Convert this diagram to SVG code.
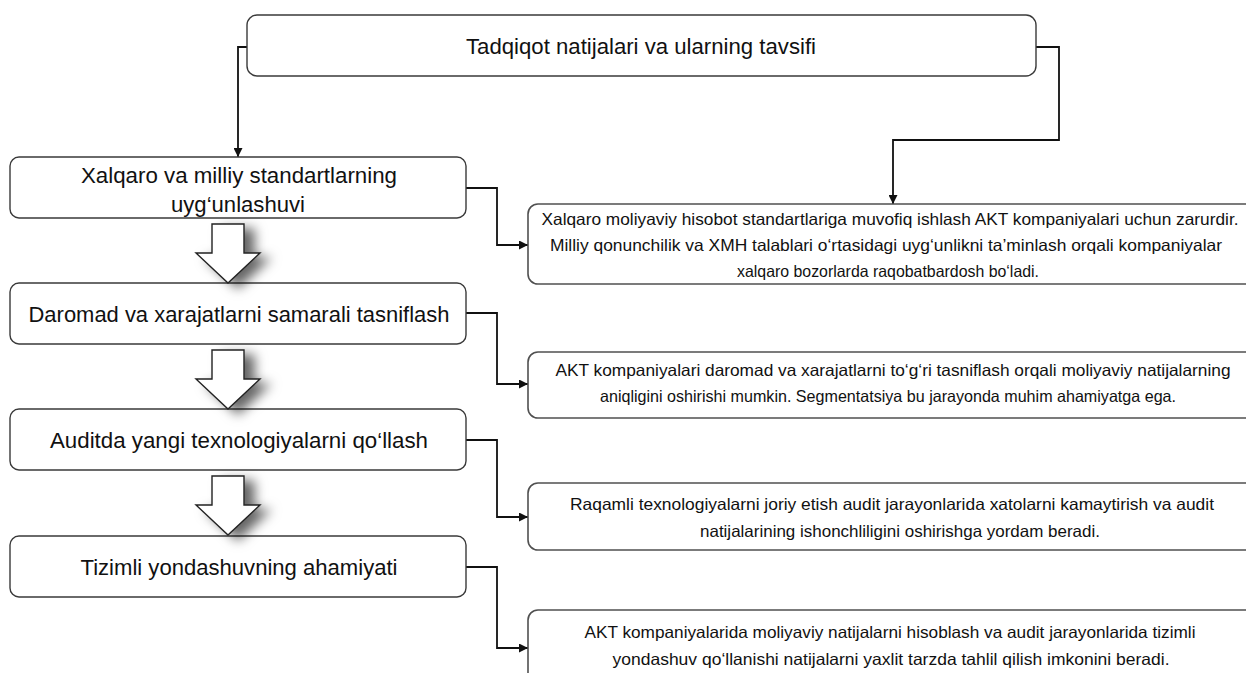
<svg xmlns="http://www.w3.org/2000/svg" width="1246" height="673" viewBox="0 0 1246 673">
<style>
.box{fill:#fff;stroke:#3a3a3a;stroke-width:1.4}
.rbox{fill:#fff;stroke:#505050;stroke-width:1.6}
.con{fill:none;stroke:#111;stroke-width:1.8}
.big{font-family:"Liberation Sans",Arial,sans-serif;font-size:22px;fill:#111;text-anchor:middle}
.sm{font-family:"Liberation Sans",Arial,sans-serif;font-size:16.5px;fill:#111;text-anchor:middle}
.blk{fill:#fff;stroke:#222;stroke-width:1.4;filter:url(#sh)}
</style>
<defs>
<marker id="ah" viewBox="0 0 10 10" refX="10" refY="5" markerWidth="9" markerHeight="9" markerUnits="userSpaceOnUse" orient="auto">
<path d="M0,0 L10,5 L0,10 z" fill="#111"/>
</marker>
<filter id="sh" x="-60%" y="-60%" width="220%" height="220%">
<feGaussianBlur in="SourceAlpha" stdDeviation="6"/>
<feOffset dx="10" dy="5" result="b"/>
<feFlood flood-color="#000" flood-opacity="0.6"/>
<feComposite in2="b" operator="in" result="s"/>
<feMerge><feMergeNode in="s"/><feMergeNode in="SourceGraphic"/></feMerge>
</filter>
</defs>
<rect width="1246" height="673" fill="#fff"/>

<g id="connectors">
<path class="con" d="M247,47 H238 V157" marker-end="url(#ah)"/>
<path class="con" d="M1036,47 H1059 V140 H893 V204" marker-end="url(#ah)"/>
<path class="con" d="M466,188 H497 V245 H528" marker-end="url(#ah)"/>
<path class="con" d="M466,313 H497 V384 H528" marker-end="url(#ah)"/>
<path class="con" d="M466,440 H497 V517 H528" marker-end="url(#ah)"/>
<path class="con" d="M466,567 H497 V648 H528" marker-end="url(#ah)"/>
</g>

<g id="top">
<rect class="box" x="247" y="15" width="789" height="61" rx="10"/>
<text class="big" x="641" y="54" font-size="21" textLength="350" lengthAdjust="spacingAndGlyphs">Tadqiqot natijalari va ularning tavsifi</text>
</g>

<g id="n1">
<rect class="box" x="10" y="157" width="456" height="61" rx="9"/>
<text class="big" x="239" y="183" font-size="23" textLength="316" lengthAdjust="spacingAndGlyphs">Xalqaro va milliy standartlarning</text>
<text class="big" x="238" y="212" font-size="23" textLength="134" lengthAdjust="spacingAndGlyphs">uyg‘unlashuvi</text>
</g>
<g id="n2">
<rect class="box" x="10" y="283" width="456" height="61" rx="9"/>
<text class="big" x="239" y="322" font-size="23" textLength="421" lengthAdjust="spacingAndGlyphs">Daromad va xarajatlarni samarali tasniflash</text>
</g>
<g id="n3">
<rect class="box" x="10" y="409" width="456" height="61" rx="9"/>
<text class="big" x="239" y="448" font-size="23" textLength="378" lengthAdjust="spacingAndGlyphs">Auditda yangi texnologiyalarni qo‘llash</text>
</g>
<g id="n4">
<rect class="box" x="10" y="536" width="456" height="61" rx="9"/>
<text class="big" x="239" y="575" font-size="23" textLength="317" lengthAdjust="spacingAndGlyphs">Tizimli yondashuvning ahamiyati</text>
</g>

<g id="r1">
<rect class="rbox" x="528" y="204" width="740" height="80" rx="10"/>
<text class="sm" x="890" y="225" textLength="697" lengthAdjust="spacingAndGlyphs">Xalqaro moliyaviy hisobot standartlariga muvofiq ishlash AKT kompaniyalari uchun zarurdir.</text>
<text class="sm" x="886" y="251" textLength="672" lengthAdjust="spacingAndGlyphs">Milliy qonunchilik va XMH talablari o‘rtasidagi uyg‘unlikni ta’minlash orqali kompaniyalar</text>
<text class="sm" x="888" y="277" textLength="302" lengthAdjust="spacingAndGlyphs">xalqaro bozorlarda raqobatbardosh bo‘ladi.</text>
</g>
<g id="r2">
<rect class="rbox" x="528" y="352" width="740" height="66" rx="10"/>
<text class="sm" x="893" y="376" textLength="675" lengthAdjust="spacingAndGlyphs">AKT kompaniyalari daromad va xarajatlarni to‘g‘ri tasniflash orqali moliyaviy natijalarning</text>
<text class="sm" x="888" y="402" textLength="576" lengthAdjust="spacingAndGlyphs">aniqligini oshirishi mumkin. Segmentatsiya bu jarayonda muhim ahamiyatga ega.</text>
</g>
<g id="r3">
<rect class="rbox" x="528" y="483" width="740" height="67" rx="10"/>
<text class="sm" x="892" y="510" textLength="644" lengthAdjust="spacingAndGlyphs">Raqamli texnologiyalarni joriy etish audit jarayonlarida xatolarni kamaytirish va audit</text>
<text class="sm" x="900" y="537" textLength="400" lengthAdjust="spacingAndGlyphs">natijalarining ishonchliligini oshirishga yordam beradi.</text>
</g>
<g id="r4">
<rect class="rbox" x="528" y="610" width="740" height="78" rx="10"/>
<text class="sm" x="890" y="638" textLength="611" lengthAdjust="spacingAndGlyphs">AKT kompaniyalarida moliyaviy natijalarni hisoblash va audit jarayonlarida tizimli</text>
<text class="sm" x="891" y="665" textLength="557" lengthAdjust="spacingAndGlyphs">yondashuv qo‘llanishi natijalarni yaxlit tarzda tahlil qilish imkonini beradi.</text>
</g>

<g id="flow-arrows">
<path class="blk" d="M212,224 H244 V253 H260 L228,283 L196,253 H212 Z"/>
<path class="blk" d="M212,350 H244 V379 H260 L228,409 L196,379 H212 Z"/>
<path class="blk" d="M212,476 H244 V505 H260 L228,535 L196,505 H212 Z"/>
</g>
</svg>
